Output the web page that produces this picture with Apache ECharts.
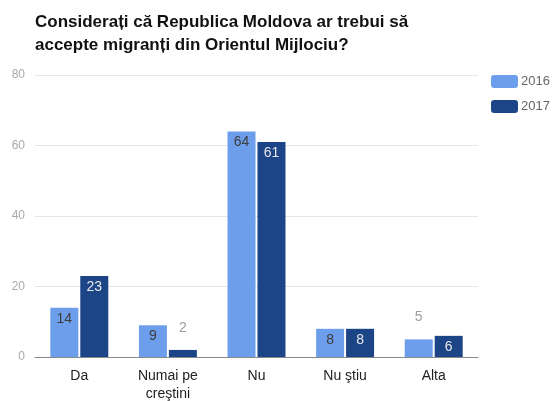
<!DOCTYPE html>
<html><head><meta charset="utf-8">
<script src="https://cdn.jsdelivr.net/npm/echarts@6/dist/echarts.min.js"></script>
<style>html,body{margin:0;padding:0;background:#fff}#c{width:552px;height:401px}</style>
</head><body><div id="c"></div>
<script>
var categories = ['Da', 'Numai pe\ncreştini', 'Nu', 'Nu ştiu', 'Alta'];
var values2016 = [14, 9, 64, 8, 5];
var values2017 = [23, 2, 61, 8, 6];
var outside2016 = [false, false, false, false, true];
var outside2017 = [false, true, false, false, false];
var yTicks = [0, 20, 40, 60, 80];

function items(vals, outside, insideColor) {
  return vals.map(function (v, i) {
    return outside[i]
      ? { value: v, label: { position: 'top', color: '#9e9e9e', distance: 15 } }
      : { value: v, label: { position: 'insideTop', color: insideColor, distance: 4 } };
  });
}

var chart = echarts.init(document.getElementById('c'));
chart.setOption({
  animation: false,
  title: {
    text: 'Considerați că Republica Moldova ar trebui să\naccepte migranți din Orientul Mijlociu?',
    left: 30, top: 6,
    textStyle: { fontFamily: 'Liberation Sans, Arial', fontSize: 17, fontWeight: 'bold', color: '#111', lineHeight: 23 }
  },
  legend: {
    orient: 'vertical', left: 491, top: 75, padding: 0, itemWidth: 27, itemHeight: 13, itemGap: 12,
    textStyle: { color: '#666', fontSize: 13, fontFamily: 'Liberation Sans, Arial', padding: [0, 0, 0, -2] },
    data: ['2016', '2017']
  },
  grid: { left: 35, right: 74, top: 75, bottom: 44, outerBoundsMode: 'none', containLabel: false },
  xAxis: {
    type: 'category', data: categories,
    axisTick: { show: false },
    axisLine: { lineStyle: { color: '#888' } },
    axisLabel: { color: '#222', fontSize: 14, fontFamily: 'Liberation Sans, Arial', margin: 10, lineHeight: 18, interval: 0 }
  },
  yAxis: {
    type: 'value', min: 0, max: 80, interval: 20,
    axisLine: { show: false }, axisTick: { show: false },
    axisLabel: { color: '#aaa', fontSize: 12, fontFamily: 'Liberation Sans, Arial', margin: 10,
      formatter: function (v) { return yTicks.indexOf(v) >= 0 ? String(v) : ''; } },
    splitLine: { lineStyle: { color: '#e6e6e6' } }
  },
  series: [
    { name: '2016', type: 'bar', barWidth: 28, barGap: '7%',
      itemStyle: { color: '#6d9eeb' },
      label: { show: true, fontSize: 14, fontFamily: 'Liberation Sans, Arial' },
      data: items(values2016, outside2016, '#3d3d3d') },
    { name: '2017', type: 'bar', barWidth: 28, barGap: '7%',
      itemStyle: { color: '#1c4587' },
      label: { show: true, fontSize: 14, fontFamily: 'Liberation Sans, Arial' },
      data: items(values2017, outside2017, '#e8e8e8') }
  ]
});
</script></body></html>
